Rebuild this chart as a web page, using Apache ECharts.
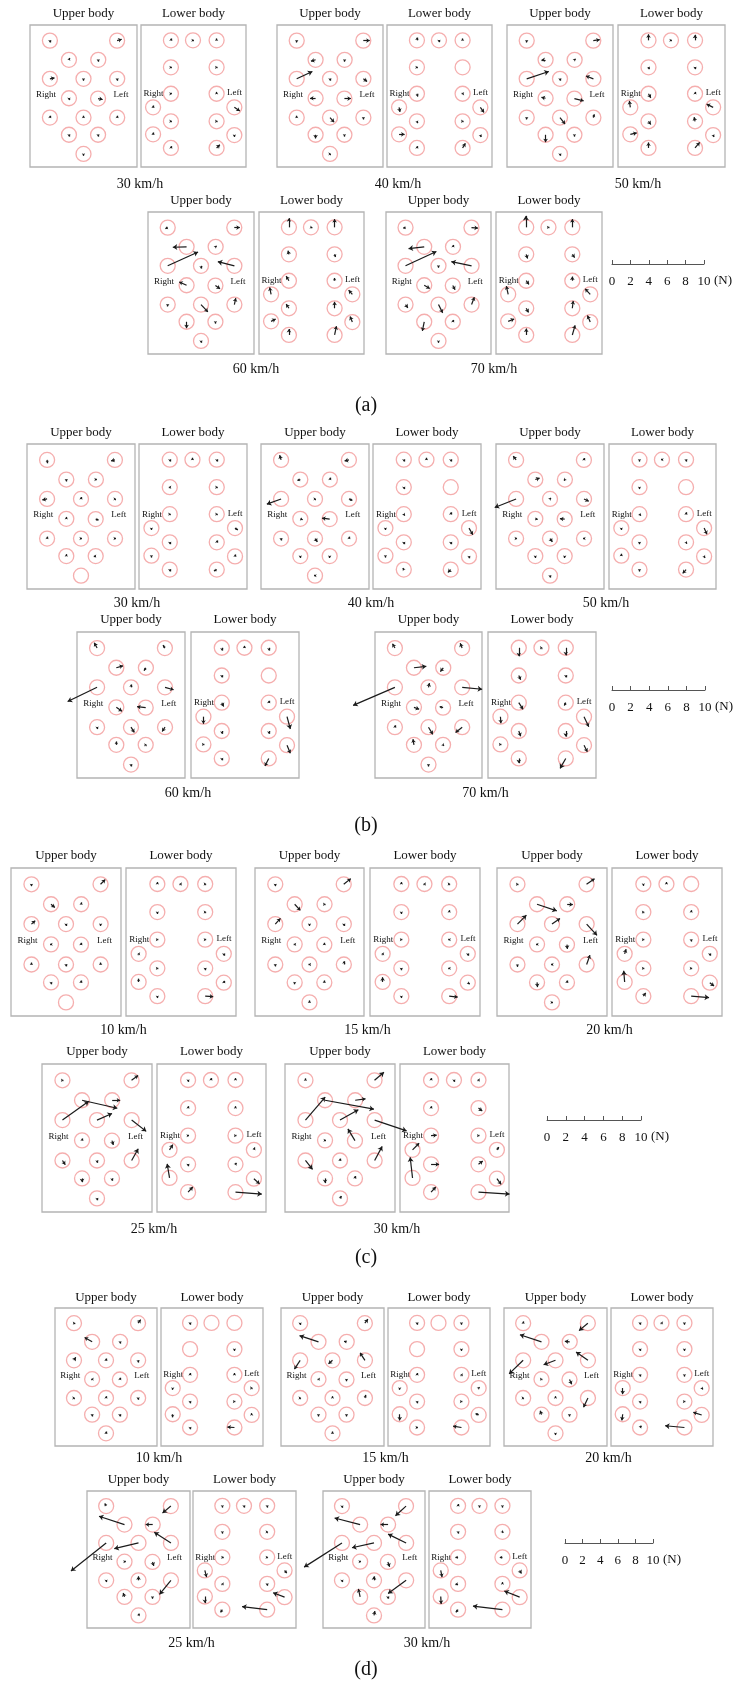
<!DOCTYPE html>
<html>
<head>
<meta charset="utf-8">
<script src="https://cdn.jsdelivr.net/npm/echarts@6/dist/echarts.min.js"></script>
<style>
html,body{margin:0;padding:0;background:#fff;}
#chart{width:736px;height:1684px;}
</style>
</head>
<body>
<div id="chart"></div>
<script>
// Speed categories of each test series
const speedsA = ['30 km/h', '40 km/h', '50 km/h', '60 km/h', '70 km/h'];
const speedsB = ['30 km/h', '40 km/h', '50 km/h', '60 km/h', '70 km/h'];
const speedsC = ['10 km/h', '15 km/h', '20 km/h', '25 km/h', '30 km/h'];
const speedsD = ['10 km/h', '15 km/h', '20 km/h', '25 km/h', '30 km/h'];
const scaleTicks = [0, 2, 4, 6, 8, 10];

// Force vectors [Fx, Fy] in N for the 15 upper-body and 15 lower-body sensors (null = no reading)
const a30Upper = [[0,-0.2],[0.5,0.15],[0.1,0.2],[0,-0.2],[0.5,0.1],[0,-0.2],[0,-0.2],[0,-0.2],[0.5,-0.1],[0,0.2],[0,0.2],[0,0.2],[0,-0.2],[0,-0.2],[0,-0.2]];
const a30Lower = [[0,0.2],[0.1,0],[0,0.2],[0.1,0],[0.1,0],[0.1,0],[0,0.2],[0,0.2],[0.6,-0.4],[0.1,0],[0.1,0],[0,0.2],[0,-0.2],[0,0.2],[0.35,0.35]];
const a40Upper = [[0,-0.2],[0.7,0],[-0.5,-0.15],[0,-0.2],[1.7,0.8],[0,-0.2],[0.4,-0.3],[-0.6,0],[0.7,0],[0,0.2],[0.45,-0.5],[0,-0.2],[0,-0.4],[0,-0.2],[0.1,0]];
const a40Lower = [[0,0.3],[0,-0.2],[0,0.2],[0.1,0],null,[0.1,-0.3],[-0.1,0],[0.1,-0.5],[0.4,-0.55],[0.1,-0.2],[0.1,0],[0.6,0],[0.1,-0.2],[0,0.2],[0.3,0.5]];
const a50Upper = [[0,-0.2],[0.7,0.1],[-0.45,0],[0.1,0.1],[2.4,0.8],[0,-0.2],[-0.8,0.3],[-0.45,0.1],[1.0,-0.25],[0,-0.2],[0.55,-0.7],[0.1,0.35],[0,-0.8],[0,-0.2],[0,-0.2]];
const a50Lower = [[0,0.65],[0.1,0],[0,0.6],[0.1,-0.2],[0,-0.2],[0.25,-0.45],[0,0.2],[-0.1,0.7],[-0.7,0.35],[0.25,-0.35],[-0.1,0.45],[0.7,0.15],[0.1,-0.2],[0,0.6],[0.5,0.6]];
const a60Upper = [[-0.25,-0.1],[0.6,0],[-1.5,-0.05],[0.1,0.1],[3.3,1.5],[0,-0.3],[-1.8,0.45],[-0.8,0.35],[0.5,-0.35],[0,-0.2],[0.75,-0.8],[0.15,0.7],[0,-0.7],[0,-0.2],[0,-0.2]];
const a60Lower = [[0,1.0],[0.15,-0.05],[0,0.9],[-0.1,0.4],[0.1,-0.3],[-0.3,0.5],[0,0.3],[-0.15,0.75],[-0.4,0.45],[-0.3,0.45],[0,0.7],[0.5,0.25],[-0.25,0.6],[0,0.65],[0.2,0.95]];
const a70Upper = [[-0.25,-0.05],[0.7,-0.05],[-1.7,-0.2],[0,0.2],[3.35,1.55],[0,-0.2],[-2.2,0.45],[0.6,-0.35],[0.25,-0.45],[0.25,-0.35],[0.45,-0.9],[0.3,0.8],[-0.2,-1.0],[0,0.2],[0,-0.2]];
const a70Lower = [[-0.05,1.25],[0.1,0],[0,0.9],[0.15,-0.45],[0.25,-0.35],[0.3,-0.4],[0,0.45],[-0.2,0.9],[-0.55,0.6],[0.25,-0.45],[0.1,0.8],[0.65,0.25],[-0.3,0.7],[0,0.7],[0.3,1.05]];

const b30Upper = [[0.05,-0.35],[-0.4,-0.1],[0,-0.2],[0.1,0],[-0.5,-0.1],[0,0.2],[0.1,0],[0,0.2],[0.3,-0.1],[0,0.2],[0.1,0],[0.1,0],[0,0.2],[-0.2,0],null];
const b30Lower = [[0,-0.2],[0,0.2],[0,-0.2],[-0.1,0],[0.1,0],[0.1,0],[0.1,0],[0,-0.2],[0.3,-0.2],[0,-0.2],[0,0.2],[0,-0.2],[0,0.2],[0,-0.2],[-0.3,-0.15]];
const b40Upper = [[-0.15,0.5],[-0.45,-0.1],[-0.3,-0.1],[0,0.2],[-1.5,-0.55],[0.1,0],[0.35,-0.15],[0.25,-0.1],[-0.8,0.1],[0,-0.2],[0.25,-0.35],[0,0.2],[0,-0.2],[0,-0.2],[-0.1,0]];
const b40Lower = [[0,-0.2],[0,0.2],[0,-0.2],[0,-0.2],null,[0.1,-0.15],[0,0.2],[0,-0.2],[0.4,-0.7],[0,-0.2],[0,-0.2],[0,-0.2],[0,-0.2],[-0.1,0.15],[-0.3,-0.3]];
const b50Upper = [[-0.3,0.4],[0,0.2],[0.45,0.15],[-0.1,-0.1],[-2.25,-0.9],[0.1,0.1],[0.5,-0.25],[0.25,-0.05],[-0.5,0.05],[0.1,0],[0.25,-0.35],[-0.1,0],[0,-0.2],[0,-0.2],[0,-0.2]];
const b50Lower = [[0,-0.2],[-0.1,0],[0,-0.2],[0,-0.2],null,[0.15,-0.15],[0,0.2],[0,-0.2],[0.3,-0.65],[0,-0.2],[0.1,-0.15],[0,0.2],[0.1,-0.15],[0,-0.2],[-0.35,-0.4]];
const b60Upper = [[-0.3,0.55],[-0.2,0.3],[0.7,0.2],[-0.2,-0.3],[-3.1,-1.5],[0,0.3],[0.9,-0.25],[0.6,-0.4],[-0.9,0.1],[0,-0.2],[0.35,-0.55],[-0.3,-0.45],[0,0.35],[0.1,0],[0,-0.2]];
const b60Lower = [[0,-0.3],[0,0.2],[0,-0.3],[0,-0.2],null,[0.2,-0.4],[0,0.2],[0,-0.75],[0.35,-1.3],[0,-0.3],[0,-0.3],[0.1,0],[0.35,-0.85],[0,-0.2],[-0.4,-0.8]];
const b70Upper = [[-0.25,0.45],[-0.2,0.5],[1.3,0.15],[-0.3,-0.4],[-4.4,-1.9],[0.1,0.45],[2.1,-0.2],[0.55,-0.2],[-0.35,0.1],[0,0.2],[0.45,-0.75],[-0.7,-0.55],[-0.1,0.6],[0.1,-0.1],[0,-0.2]];
const b70Lower = [[0,-0.9],[0.1,0],[0,-0.8],[0.2,-0.45],[0,-0.2],[0.45,-0.7],[-0.15,-0.3],[0.05,-0.7],[0.5,-1.05],[0.2,-0.55],[0,-0.6],[0.1,0],[0.35,-0.7],[0,-0.5],[-0.6,-1.05]];

const c10Upper = [[0,-0.2],[0.5,0.5],[0.4,-0.35],[0,0.2],[0.4,0.35],[0,-0.2],[0,-0.2],[-0.1,0],[0,0.2],[0,0.2],[0,-0.2],[0,0.2],[0,-0.2],[0,0.2],null];
const c10Lower = [[0,0.2],[-0.1,0],[0.1,0],[0,-0.2],[0.1,0],[0.1,0],[0.1,0],[-0.1,0],[0,-0.2],[0.1,0],[0,-0.2],[0,0.35],[0,0.2],[0,-0.2],[0.85,-0.05]];
const c15Upper = [[0,-0.2],[0.75,0.6],[0.6,-0.65],[0.1,0],[0.55,0.6],[0,-0.2],[0,-0.2],[-0.1,0],[0,0.2],[0,-0.2],[-0.1,0],[0,0.35],[0,-0.2],[0,0.2],[0,0.2]];
const c15Lower = [[0,0.2],[-0.1,0],[0.1,0],[0,-0.2],[0,0.2],[0.1,0],[-0.1,0],[-0.1,0],[0,-0.2],[0,-0.2],[-0.1,0],[0,0.5],[0.2,-0.15],[0,-0.2],[0.9,-0.1]];
const c20Upper = [[0.1,0],[0.85,0.6],[2.1,-0.7],[0.6,-0.05],[0.95,0.95],[0.85,0.6],[1.1,-1.2],[-0.1,0],[0.05,-0.45],[0,-0.25],[-0.1,0],[0.35,1.0],[0.05,-0.5],[0,0.2],[0.1,0]];
const c20Lower = [[0,-0.2],[0,0.2],null,[0.1,0],[0,0.2],[0.1,0],[0,-0.2],[0.15,0.5],[0,-0.2],[0.1,0],[0.1,0],[-0.1,1.2],[0.45,-0.35],[0.25,0.35],[1.9,-0.15]];
const c25Upper = [[0.1,0],[0.7,0.5],[3.75,-0.85],[0.85,0],[2.8,2.0],[1.6,0.7],[1.55,-1.2],[0,0.2],[0.15,-0.45],[0.3,-0.45],[0,-0.25],[0.7,1.25],[0,-0.4],[0,-0.25],[0,-0.2]];
const c25Lower = [[0,-0.2],[0,0.2],[0,0.2],[0,0.2],[0,0.2],[0.1,0],[0.1,0],[0.35,0.55],[0.1,0.25],[0,-0.2],[0.1,0.15],[-0.25,1.5],[0.6,-0.55],[0.5,0.55],[2.8,-0.2]];
const c30Upper = [[0,0.2],[1.0,0.85],[5.2,-0.95],[1.1,0.15],[2.1,2.45],[1.95,1.1],[3.4,-1.15],[0.1,0],[-0.75,1.25],[0.75,-0.95],[0,0.2],[0.8,1.5],[0,-0.5],[0,0.25],[0.15,0.25]];
const c30Lower = [[0,0.2],[0,-0.2],[-0.1,0],[0,0.2],[0.4,-0.3],[0.6,0.05],[0.1,0],[0.7,0.7],[0.2,0.3],[0.85,0],[0.45,0.35],[-0.25,2.2],[0.45,-0.6],[0.5,0.55],[3.3,-0.2]];

const d10Upper = [[0.15,0],[0.3,0.4],[-0.85,0.5],[0,-0.2],[0.2,0.35],[0,0.2],[0,-0.25],[-0.1,0],[0,0.2],[0.1,0],[0,0.2],[0,-0.2],[0,-0.2],[0,-0.2],[0,0.2]];
const d10Lower = [[0,-0.2],null,null,null,[0,-0.2],[0,0.2],[0,0.2],[0,-0.2],[0.1,0],[0,-0.2],[0.1,0],[0,-0.35],[0,0.2],[0,-0.2],[-0.8,0.05]];
const d15Upper = [[0,-0.2],[0.35,0.45],[-2.15,0.7],[-0.3,0.05],[-0.65,-1.0],[-0.45,-0.4],[-0.55,0.85],[-0.1,0],[0,-0.2],[0.1,0],[0,0.2],[0.1,0.35],[0,-0.2],[0,-0.2],[0,0.2]];
const d15Lower = [[0,-0.2],null,[0,-0.2],null,[0,-0.2],[0,0.2],[-0.1,0],[0,-0.2],[0.1,0.1],[0,-0.2],[0.1,0],[0,-0.7],[-0.35,0.15],[0.1,0],[-0.95,0.15]];
const d20Upper = [[0,0.2],[-1.0,-0.85],[-2.45,0.8],[-0.55,0.05],[-1.6,-1.55],[-1.35,-0.5],[-1.35,0.95],[0.1,0],[0.25,-0.55],[0.1,0],[0,0.2],[-0.5,-1.05],[-0.15,0.45],[0,-0.2],[0,-0.2]];
const d20Lower = [[0,-0.2],[-0.1,0],[0,-0.2],[0,-0.2],[0,-0.2],[0,-0.2],[0,-0.2],[0,-0.7],[0.15,-0.15],[0,-0.2],[0.1,0],[-0.1,-0.7],[-0.95,0.3],[0.15,0.2],[-2.2,0.2]];
const d25Upper = [[-0.15,0.3],[-0.95,-0.8],[-2.9,0.95],[-0.8,0],[-4.0,-3.2],[-2.75,-0.65],[-1.9,1.2],[0.15,0],[0.15,-0.45],[0,-0.2],[0,0.45],[-1.3,-1.6],[-0.15,0.45],[0,-0.2],[0.1,0.2]];
const d25Lower = [[0,-0.2],[0,-0.2],[0,-0.2],[0,-0.2],[0.1,0],[0.15,0],[0.1,0],[0.2,-0.75],[0.25,-0.3],[-0.1,0],[0,-0.2],[0,-0.75],[-1.3,0.5],[-0.2,-0.3],[-2.85,0.35]];
const d30Upper = [[0,-0.2],[-1.2,-1.1],[-2.9,0.75],[-0.85,0],[-4.3,-2.75],[-2.5,-0.55],[-2.05,1.0],[0.1,0],[0.2,-0.55],[0,-0.2],[0,0.45],[-2.05,-1.5],[-0.2,0.9],[0,-0.2],[0.1,0.5]];
const d30Lower = [[0,0.2],[0,-0.2],[0,-0.2],[0,-0.2],[0.1,-0.1],[-0.3,0],[-0.3,0],[0.15,-0.75],[0.2,-0.35],[-0.3,0],[0,0.2],[0.05,-0.85],[-1.75,0.7],[-0.25,-0.3],[-3.35,0.4]];

// Sensor placement inside a panel, as fractions of panel width (from left) and height (from top)
const upperLayout = [[0.186,0.110],[0.814,0.110],[0.364,0.245],[0.638,0.245],[0.186,0.379],[0.500,0.379],[0.815,0.379],[0.364,0.516],[0.636,0.518],[0.186,0.652],[0.500,0.652],[0.815,0.652],[0.364,0.773],[0.636,0.773],[0.500,0.908]];
const lowerLayout = [[0.285,0.108],[0.495,0.108],[0.720,0.108],[0.285,0.298],[0.720,0.298],[0.285,0.484],[0.720,0.484],[0.115,0.580],[0.889,0.580],[0.285,0.678],[0.720,0.678],[0.115,0.770],[0.889,0.775],[0.285,0.866],[0.720,0.866]];
const upperSideLabels = {right:[0.15,0.49], left:[0.85,0.49]};
const lowerSideLabels = {right:[0.12,0.486], left:[0.89,0.478]};

// Page geometry of the four test series (pixels); k = pixels per newton.
// Group entries: [upper x, upper width, lower x, lower width, optional speed-label centre]
const sections = [
  {tag:'(a)', tagY:406, k:9.2, speeds:speedsA,
   upper:[a30Upper,a40Upper,a50Upper,a60Upper,a70Upper], lower:[a30Lower,a40Lower,a50Lower,a60Lower,a70Lower],
   bar:{x0:612, x1:704, y:264},
   rows:[{titleY:14, top:25, h:142, labelY:184, groups:[[30,107,141,105,140],[277,106,387,105,398],[507,106,618,107,638]]},
         {titleY:201, top:212, h:142, labelY:369, groups:[[148,106,259,105],[386,105,496,106]]}]},
  {tag:'(b)', tagY:826, k:9.5, speeds:speedsB,
   upper:[b30Upper,b40Upper,b50Upper,b60Upper,b70Upper], lower:[b30Lower,b40Lower,b50Lower,b60Lower,b70Lower],
   bar:{x0:612, x1:705, y:690},
   rows:[{titleY:433, top:444, h:145, labelY:603, groups:[[27,108,139,108],[261,108,373,108],[496,108,609,107]]},
         {titleY:620, top:632, h:146, labelY:793, groups:[[77,108,191,108],[375,107,488,108]]}]},
  {tag:'(c)', tagY:1258, k:9.4, speeds:speedsC,
   upper:[c10Upper,c15Upper,c20Upper,c25Upper,c30Upper], lower:[c10Lower,c15Lower,c20Lower,c25Lower,c30Lower],
   bar:{x0:547, x1:641, y:1120},
   rows:[{titleY:856, top:868, h:148, labelY:1030, groups:[[11,110,126,110],[255,109,370,110],[497,110,612,110]]},
         {titleY:1052, top:1064, h:148, labelY:1229, groups:[[42,110,157,109],[285,110,400,109]]}]},
  {tag:'(d)', tagY:1670, k:8.8, speeds:speedsD,
   upper:[d10Upper,d15Upper,d20Upper,d25Upper,d30Upper], lower:[d10Lower,d15Lower,d20Lower,d25Lower,d30Lower],
   bar:{x0:565, x1:653, y:1543},
   rows:[{titleY:1298, top:1308, h:138, labelY:1458, groups:[[55,102,161,102],[281,103,388,102],[504,103,611,102]]},
         {titleY:1480, top:1491, h:137, labelY:1643, groups:[[87,103,193,103],[323,102,429,102]]}]}
];

const FONT = '"Liberation Serif", "DejaVu Serif", serif';
// Arrow-head size tiers by force magnitude (N): tiny readings show as dots
const HEAD_TIERS = [{max:0.4, head:2.5, width:1.3}, {max:1.2, head:3.5, width:1.2}, {max:Infinity, head:4.5, width:1.2}];
const grids = [], xAxes = [], yAxes = [], series = [], graphics = [];

function addText(str, x, y, size) {
  graphics.push({type:'text', x:x, y:y, silent:true,
    style:{text:str, fontSize:size, fontFamily:FONT, fill:'#111',
           align:'center', verticalAlign:'middle', textAlign:'center', textVerticalAlign:'middle'}});
}

function arrowSeries(idx, data, headSize, width) {
  return {type:'lines', coordinateSystem:'cartesian2d', xAxisIndex:idx, yAxisIndex:idx, data:data,
    symbol:['none','arrow'], symbolSize:headSize, lineStyle:{color:'#1a1a1a', width:width, opacity:1, curveness:0},
    silent:true, clip:false, z:3};
}

// One body panel: framed grid, sensor rings and force arrows
function addPanel(x, top, w, h, k, layout, vecs, sideLabels) {
  const idx = grids.length;
  const xmax = w / k, ymax = h / k;
  grids.push({left:x, top:top, width:w, height:h, show:true, borderColor:'#b4b4b4', borderWidth:1.3, backgroundColor:'rgba(0,0,0,0)'});
  xAxes.push({type:'value', gridIndex:idx, min:0, max:xmax, show:false});
  yAxes.push({type:'value', gridIndex:idx, min:0, max:ymax, show:false});
  const pts = layout.map(p => [p[0] * xmax, (1 - p[1]) * ymax]);
  series.push({type:'scatter', xAxisIndex:idx, yAxisIndex:idx, data:pts, symbol:'circle', symbolSize:15,
    itemStyle:{color:'rgba(0,0,0,0)', borderColor:'#f29a9a', borderWidth:1.3}, silent:true, clip:false, z:2});
  const buckets = HEAD_TIERS.map(() => []);
  vecs.forEach((v, i) => {
    if (!v) return;
    const p = pts[i];
    const mag = Math.hypot(v[0], v[1]);
    const t = HEAD_TIERS.findIndex(tier => mag < tier.max);
    buckets[t].push({coords:[p, [p[0] + v[0], p[1] + v[1]]]});
  });
  HEAD_TIERS.forEach((tier, t) => series.push(arrowSeries(idx, buckets[t], tier.head, tier.width)));
  addText('Right', x + sideLabels.right[0] * w, top + sideLabels.right[1] * h, 9);
  addText('Left', x + sideLabels.left[0] * w, top + sideLabels.left[1] * h, 9);
}

// Newton scale bar drawn as a value axis
function addScaleBar(bar) {
  const idx = grids.length;
  grids.push({left:bar.x0, top:bar.y - 1, width:bar.x1 - bar.x0, height:1, show:false});
  xAxes.push({type:'value', gridIndex:idx, min:scaleTicks[0], max:scaleTicks[scaleTicks.length - 1], interval:2,
    axisLine:{show:true, lineStyle:{color:'#555', width:1}},
    axisTick:{show:true, inside:true, length:4, lineStyle:{color:'#555', width:1}},
    splitLine:{show:false},
    axisLabel:{show:true, margin:11, fontSize:13, fontFamily:FONT, color:'#111'}});
  yAxes.push({type:'value', gridIndex:idx, min:0, max:1, show:false});
  series.push({type:'line', xAxisIndex:idx, yAxisIndex:idx, data:[], silent:true});
  addText('(N)', bar.x1 + 19, bar.y + 17, 13);
}

sections.forEach(sec => {
  let g = 0;
  sec.rows.forEach(row => {
    row.groups.forEach(grp => {
      const [ux, uw, lx, lw, labelX] = grp;
      addPanel(ux, row.top, uw, row.h, sec.k, upperLayout, sec.upper[g], upperSideLabels);
      addPanel(lx, row.top, lw, row.h, sec.k, lowerLayout, sec.lower[g], lowerSideLabels);
      addText('Upper body', ux + uw / 2, row.titleY, 13);
      addText('Lower body', lx + lw / 2, row.titleY, 13);
      addText(sec.speeds[g], labelX !== undefined ? labelX : (ux + lx + lw) / 2, row.labelY, 14);
      g++;
    });
  });
  addScaleBar(sec.bar);
  addText(sec.tag, 366, sec.tagY, 20);
});

const chart = echarts.init(document.getElementById('chart'), null, {renderer:'canvas', width:736, height:1684});
chart.setOption({
  animation:false,
  backgroundColor:'#ffffff',
  grid:grids,
  xAxis:xAxes,
  yAxis:yAxes,
  series:series,
  graphic:{elements:graphics}
});
</script>
</body>
</html>
